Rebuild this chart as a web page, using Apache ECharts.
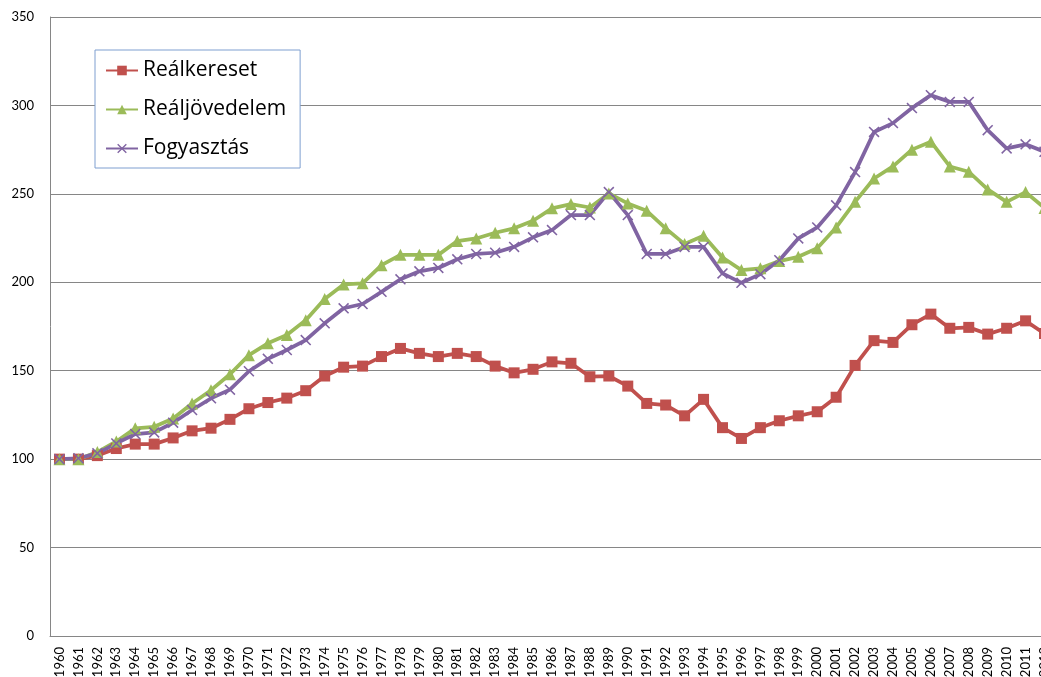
<!DOCTYPE html>
<html>
<head>
<meta charset="utf-8">
<script src="https://cdn.jsdelivr.net/npm/echarts@6/dist/echarts.min.js"></script>
<style>
html,body{margin:0;padding:0;background:#fff;}
#chart{width:1041px;height:677px;}
</style>
</head>
<body>
<div id="chart"></div>
<script>
var years = [];
for (var y = 1960; y <= 2012; y++) years.push(String(y));

var seriesNames = ['Reálkereset', 'Reáljövedelem', 'Fogyasztás'];

var realkereset = [100,100,102,106,108.5,108.5,112,116,117.5,122.5,
  128.5,132,134.5,138.7,147,152,152.6,158,162.6,159.8,
  158,159.8,158,152.6,148.8,150.8,155,154.2,146.6,147,
  141.3,131.5,130.6,124.5,133.8,117.8,111.7,117.8,121.7,124.5,
  126.8,135,153,167,166,176,182,174,174.5,170.7,
  174,178.2,171];

var realjovedelem = [100,100,104,110,117.4,118.3,123,131.5,139,148,
  158.8,165.5,170.2,178.6,190.5,198.8,199.4,209.7,215.5,215.5,
  215.5,223.3,224.8,228,230.5,234.8,241.8,244.2,242.3,250.2,
  244.6,240.4,230.5,221.6,226.3,214,206.9,207.9,212,214.4,
  219.2,231,245.5,258.7,265.5,275,279.5,265.5,262.5,252.5,
  245.5,251,242];

var fogyasztas = [100,100.5,103.3,108.9,114.2,115.1,120.6,127.8,134.4,139.3,
  149.7,156.7,161.7,167.3,176.8,185.3,187.7,194.6,201.7,206.2,
  208.1,213,216,216.7,220,225.4,229.5,238,238,251,
  238,216,216,220,220,205,199.7,204.6,212.5,224.8,
  231,243.5,262.3,285,290,298.5,305.8,302,302,286,
  275.7,278,273.8];

var xSymbol = 'path://M0,1L1,0L5,4L9,0L10,1L6,5L10,9L9,10L5,6L1,10L0,9L4,5Z';
var FONT = 'Lato, "Liberation Sans", sans-serif';

var chart = echarts.init(document.getElementById('chart'), null, {renderer: 'canvas'});
chart.setOption({
  animation: false,
  backgroundColor: '#ffffff',
  grid: {left: 50, top: 17, height: 619, width: 1004, containLabel: false, outerBoundsMode: 'none'},
  legend: {
    orient: 'vertical',
    left: 95,
    top: 50,
    padding: [10, 14, 9, 10],
    itemGap: 18,
    itemWidth: 32,
    itemHeight: 12,
    backgroundColor: '#ffffff',
    borderColor: '#7f9fd0',
    borderWidth: 1,
    borderRadius: 0,
    textStyle: {fontFamily: '"Open Sans", sans-serif', fontSize: 21, color: '#000'},
    data: seriesNames
  },
  xAxis: {
    type: 'category',
    data: years,
    boundaryGap: true,
    axisLine: {lineStyle: {color: '#868686', width: 1}},
    axisTick: {show: false},
    axisLabel: {interval: 0, rotate: 90, margin: 11, fontFamily: FONT, fontSize: 13, color: '#000'},
    splitLine: {show: false}
  },
  yAxis: {
    type: 'value',
    min: 0,
    max: 350,
    interval: 50,
    axisLine: {show: true, lineStyle: {color: '#868686', width: 1}},
    axisTick: {show: false},
    axisLabel: {margin: 16, fontFamily: FONT, fontSize: 13, color: '#000'},
    splitLine: {show: true, lineStyle: {color: '#868686', width: 1}}
  },
  series: [
    {
      name: seriesNames[0], type: 'line', data: realkereset,
      symbol: 'rect', symbolSize: 11, showAllSymbol: true,
      lineStyle: {color: '#C0504D', width: 3.75},
      itemStyle: {color: '#C0504D'}
    },
    {
      name: seriesNames[1], type: 'line', data: realjovedelem,
      symbol: 'triangle', symbolSize: 12, showAllSymbol: true,
      lineStyle: {color: '#9BBB59', width: 3.75},
      itemStyle: {color: '#9BBB59'}
    },
    {
      name: seriesNames[2], type: 'line', data: fogyasztas,
      symbol: xSymbol, symbolSize: 11, showAllSymbol: true,
      lineStyle: {color: '#8064A2', width: 3.75},
      itemStyle: {color: '#8064A2'}
    }
  ]
});
</script>
</body>
</html>
